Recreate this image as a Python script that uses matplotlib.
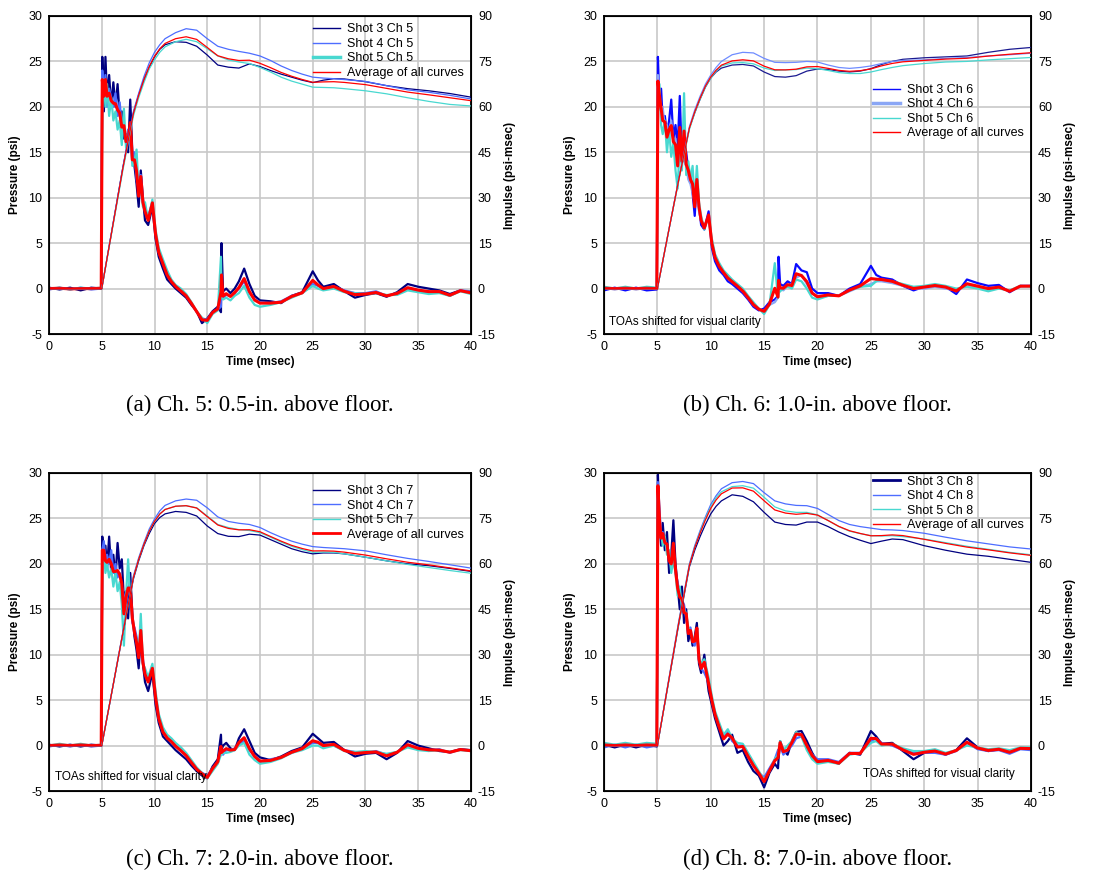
import numpy as np
import matplotlib.pyplot as plt
from matplotlib.lines import Line2D

plt.rcParams['font.family'] = ['Liberation Sans', 'DejaVu Sans']
plt.rcParams['axes.unicode_minus'] = False

# time base for the pressure traces (msec)
time_p = [0, 1, 2, 3, 4, 4.95, 5.05, 5.2, 5.35, 5.5, 5.7, 5.9, 6.1, 6.3, 6.5, 6.7,
          6.9, 7.1, 7.3, 7.5, 7.7, 7.9, 8.1, 8.3, 8.5, 8.7, 8.9, 9.1, 9.4, 9.8,
          10.1, 10.4, 10.8, 11.2, 11.6, 12.0, 12.5, 13.0, 13.5, 14.0, 14.5, 15.0,
          15.5, 16.0, 16.3, 16.35, 16.5, 16.8, 17.2, 17.6, 18.0, 18.5, 19.0, 19.5,
          20, 21, 22, 23, 24, 25, 25.5, 26, 27, 28, 29, 30, 31, 32, 33, 34, 35,
          36, 37, 38, 39, 40]
# time base for the impulse curves (msec)
time_i = [0, 5, 6, 7, 8, 8.5, 9, 9.5, 10, 10.5, 11, 12, 13, 14, 15, 16, 17, 18,
          19, 20, 21, 22, 23, 24, 25, 26, 27, 28, 30, 32, 34, 36, 38, 40]

# ---- Ch 5 ----
ch5_shot3_p = [0.1, -0.1, 0.1, -0.2, 0.1, 0.0, 25.5, 19.5, 25.5, 21.0, 23.5, 20.0, 22.7, 20.0,
               22.5, 19.0, 19.5, 16.5, 17.0, 15.0, 20.8, 15.0, 13.5, 11.5, 9.0, 13.0, 10.0,
               7.5, 7.0, 9.0, 5.5, 3.5, 2.2, 1.0, 0.5, 0.0, -0.5, -1.0, -1.8, -2.5, -3.8,
               -3.3, -2.5, -2.0, -2.6, 5.0, -0.3, 0.0, -0.5, 0.0, 0.8, 2.2, 0.5, -0.8,
               -1.3, -1.4, -1.6, -0.8, -0.4, 1.9, 0.9, 0.2, 0.5, -0.3, -1.0, -0.7, -0.5,
               -0.9, -0.4, 0.5, 0.2, 0.0, -0.2, -0.6, -0.2, -0.5]
ch5_shot4_p = [-0.1, 0.1, -0.1, 0.1, -0.1, 0.0, 24.0, 21.0, 23.5, 20.0, 22.0, 21.0, 20.0, 21.5,
               19.0, 20.5, 18.0, 17.5, 16.0, 17.5, 16.5, 14.0, 15.0, 12.0, 11.0, 12.5, 9.5,
               8.5, 8.0, 9.5, 6.0, 4.0, 2.8, 1.5, 0.8, 0.3, -0.3, -0.8, -1.6, -2.6, -3.3,
               -3.4, -2.6, -2.3, -2.0, 0.5, -1.0, -0.7, -0.8, -0.5, 0.0, 0.8, -0.5, -1.2,
               -1.5, -1.6, -1.4, -0.8, -0.5, 0.5, 0.3, 0.0, 0.2, -0.2, -0.5, -0.5, -0.3,
               -0.8, -0.5, 0.0, -0.3, -0.4, -0.3, -0.8, -0.2, -0.3]
ch5_shot5_p = [0.0, 0.1, -0.1, 0.1, 0.0, 0.1, 19.5, 23.0, 20.0, 22.5, 19.0, 21.0, 18.5, 19.5,
               17.5, 18.5, 15.8, 19.8, 15.5, 16.5, 17.5, 13.5, 14.0, 15.3, 10.5, 11.5, 9.0,
               9.5, 7.5, 9.8, 6.5, 4.5, 3.2, 2.0, 1.0, 0.4, 0.0, -0.6, -1.5, -2.5, -3.2,
               -3.8, -2.8, -2.4, 3.5, -1.0, -1.2, -1.0, -1.3, -0.8, -0.5, 0.3, -1.0, -1.8,
               -2.0, -1.8, -1.5, -1.0, -0.5, 0.3, 0.0, -0.2, 0.0, -0.4, -0.5, -0.6, -0.5,
               -0.7, -0.7, -0.2, -0.4, -0.6, -0.5, -0.8, -0.3, -0.6]
ch5_shot3_i = [0, 0, 20, 40, 58, 64, 69, 73, 76.5, 79, 80.5, 81.5, 81.3, 80.0, 77.1, 73.8,
               73.1, 72.8, 74.2, 73.3, 72.0, 70.8, 69.8, 68.8, 68.0, 68.8, 69.3, 69.2, 68.3,
               67.0, 66.0, 65.3, 64.4, 63.2]
ch5_shot4_i = [0, 0, 20, 40, 58.5, 64.5, 70, 74.5, 78, 80.5, 82.5, 84.5, 85.8, 85.3, 82.5,
               80.0, 79.0, 78.3, 77.7, 76.8, 75.3, 73.5, 72.0, 70.8, 69.8, 69.5, 69.3, 69.0,
               68.4, 67.0, 65.6, 64.8, 63.8, 62.6]
ch5_shot5_i = [0, 0, 19.5, 39, 57, 63, 68, 72.5, 75.5, 78, 79.8, 81.5, 82.3, 81.5, 79.2,
               76.8, 75.5, 74.8, 74.3, 73.0, 71.5, 69.8, 68.5, 67.5, 66.5, 66.4, 66.3, 66.0,
               65.3, 64.3, 63.0, 61.8, 60.8, 60.3]

# ---- Ch 6 ----
ch6_shot3_p = [-0.2, 0.1, -0.2, 0.1, -0.2, -0.1, 25.5, 20.0, 22.0, 18.5, 19.0, 17.0, 18.5, 20.8,
               16.5, 18.0, 15.5, 21.2, 14.0, 16.5, 15.0, 13.0, 12.5, 10.5, 8.0, 12.0, 9.0,
               7.0, 6.5, 8.5, 4.5, 3.0, 2.0, 1.5, 0.8, 0.5, 0.0, -0.5, -1.2, -2.0, -2.4,
               -2.2, -1.5, -1.2, -0.8, 3.5, 0.5, 0.3, 0.8, 0.5, 2.7, 2.0, 1.8, 0.0,
               -0.5, -0.5, -0.8, 0.0, 0.5, 2.5, 1.5, 1.2, 1.0, 0.3, -0.2, 0.2, 0.3,
               0.2, -0.6, 1.0, 0.6, 0.3, 0.4, -0.4, 0.3, 0.3]
ch6_shot4_p = [0.1, -0.1, 0.1, -0.1, 0.1, 0.0, 23.5, 21.0, 19.5, 20.0, 17.5, 18.0, 16.5, 18.5,
               16.0, 16.5, 14.0, 16.0, 15.0, 14.0, 13.5, 12.0, 11.5, 10.5, 9.5, 10.5, 8.5,
               7.5, 7.0, 7.8, 5.0, 3.5, 2.5, 1.8, 1.2, 0.8, 0.3, -0.3, -1.0, -1.8, -2.2,
               -2.5, -1.8, -1.5, -1.0, -0.3, 0.0, -0.2, 0.3, 0.5, 1.2, 1.5, 0.5, -0.5,
               -1.0, -0.8, -0.8, -0.3, 0.2, 0.5, 0.8, 0.8, 0.6, 0.3, 0.0, 0.0, 0.2,
               0.0, -0.2, 0.4, 0.2, 0.0, 0.1, -0.3, 0.2, 0.3]
ch6_shot5_p = [0.2, 0.0, 0.2, 0.0, 0.2, 0.1, 19.5, 22.5, 18.0, 17.0, 18.5, 15.0, 17.5, 14.5,
               16.0, 13.0, 11.0, 16.0, 13.0, 21.5, 12.5, 14.0, 12.0, 13.5, 9.5, 13.5, 9.5,
               8.0, 6.5, 8.0, 5.5, 3.8, 2.8, 2.0, 1.5, 1.0, 0.5, 0.0, -0.8, -1.5, -2.2,
               -2.8, -1.8, 2.8, -1.0, -0.5, -0.3, 0.0, 0.2, 0.0, 1.0, 0.8, 0.0, -1.0,
               -1.2, -0.8, -0.8, -0.2, 0.2, 0.3, 0.8, 1.0, 0.8, 0.5, 0.2, 0.3, 0.5,
               0.3, 0.0, 0.2, 0.0, -0.3, 0.0, -0.2, 0.3, 0.2]
ch6_shot3_i = [0, 0, 18, 36, 53, 58, 62.5, 66.5, 69.5, 71.5, 72.8, 73.8, 74.0, 73.5, 71.5,
               70.0, 69.8, 70.3, 71.8, 72.5, 72.3, 71.8, 71.5, 71.8, 72.6, 74.0, 75.0, 75.7,
               76.2, 76.5, 76.8, 78.0, 79.0, 79.6]
ch6_shot4_i = [0, 0, 18, 36, 53.5, 59, 63.5, 67.5, 70.5, 73, 75, 77.2, 78.0, 77.8, 76.0,
               74.7, 74.6, 74.7, 75.0, 74.8, 73.8, 73.0, 72.7, 73.0, 73.5, 74.3, 75.0, 75.3,
               75.5, 76.0, 76.3, 76.8, 77.2, 77.7]
ch6_shot5_i = [0, 0, 18, 35.5, 52.5, 58, 62.5, 66.5, 69.5, 71.8, 73.5, 74.5, 74.6, 74.2,
               72.8, 72.0, 72.2, 72.3, 72.8, 72.6, 72.0, 71.3, 71.0, 71.0, 71.5, 72.3, 73.0,
               73.6, 74.3, 74.8, 75.0, 75.5, 75.9, 76.3]

# ---- Ch 7 ----
ch7_shot3_p = [0.1, -0.1, 0.1, -0.1, 0.1, 0.0, 23.0, 20.5, 22.0, 19.5, 23.0, 19.0, 21.0, 18.5,
               22.3, 19.5, 20.5, 16.0, 17.0, 14.0, 19.0, 14.5, 12.0, 10.5, 8.5, 12.0, 9.0,
               7.0, 6.0, 8.0, 4.5, 2.5, 1.0, 0.5, 0.0, -0.5, -1.0, -1.5, -2.2, -2.8, -3.3,
               -3.6, -2.3, -1.5, 1.2, -0.5, 0.0, 0.3, -0.3, -0.5, 0.8, 1.8, 0.5, -0.8,
               -1.3, -1.6, -1.2, -0.6, -0.2, 1.3, 0.8, 0.3, 0.4, -0.5, -1.2, -0.9, -0.8,
               -1.5, -0.8, 0.5, 0.0, -0.3, -0.6, -0.7, -0.4, -0.5]
ch7_shot4_p = [-0.1, 0.1, -0.1, 0.1, -0.1, 0.0, 21.5, 22.5, 20.0, 21.0, 20.0, 21.5, 19.0, 20.0,
               18.5, 19.0, 17.5, 16.5, 15.5, 17.5, 17.0, 13.5, 13.0, 12.0, 10.5, 11.5, 9.5,
               8.0, 7.5, 8.5, 5.5, 3.0, 1.5, 0.8, 0.5, 0.0, -0.5, -1.0, -1.8, -2.6, -3.0,
               -3.3, -2.5, -1.8, -0.5, -0.8, -1.0, -0.5, -0.5, -0.3, 0.2, 0.5, -0.5, -1.2,
               -1.8, -1.5, -1.3, -0.8, -0.3, 0.3, 0.3, 0.0, 0.0, -0.5, -0.7, -0.8, -0.6,
               -1.0, -0.7, 0.0, -0.4, -0.5, -0.4, -0.8, -0.4, -0.6]
ch7_shot5_p = [0.0, 0.2, 0.0, 0.2, 0.0, 0.1, 20.0, 21.5, 19.0, 20.0, 18.5, 19.5, 17.5, 19.0,
               17.0, 18.0, 15.5, 11.0, 16.5, 20.5, 16.0, 14.0, 12.5, 11.5, 10.0, 14.5, 9.0,
               8.5, 7.5, 9.0, 6.0, 3.5, 2.0, 1.2, 0.8, 0.3, -0.2, -0.8, -1.6, -2.4, -3.0,
               -3.6, -2.8, -2.0, -1.0, -1.0, -0.8, -0.8, -0.7, -0.5, 0.0, 0.3, -1.0, -1.6,
               -2.0, -1.8, -1.4, -0.8, -0.5, 0.0, 0.0, -0.3, 0.0, -0.6, -0.7, -0.6, -0.7,
               -0.9, -0.7, -0.2, -0.5, -0.6, -0.5, -0.7, -0.5, -0.6]
ch7_shot3_i = [0, 0, 18.5, 37, 55, 61, 66, 70, 73.3, 75.3, 76.5, 77.3, 77.0, 75.8, 72.5,
               70.0, 69.1, 69.0, 69.8, 69.5, 68.0, 66.5, 65.0, 64.0, 63.3, 63.6, 63.6, 63.3,
               62.2, 61.0, 60.0, 59.4, 58.5, 57.5]
ch7_shot4_i = [0, 0, 18.5, 37.5, 56, 62, 67, 71.5, 74.8, 77.5, 79.3, 80.8, 81.4, 81.0, 78.5,
               75.5, 74.0, 73.4, 73.0, 72.0, 70.3, 68.8, 67.5, 66.5, 65.7, 65.4, 65.2, 65.0,
               64.3, 63.0, 61.8, 60.8, 59.7, 58.6]
ch7_shot5_i = [0, 0, 18.5, 37, 55.5, 61.5, 66.5, 70.8, 74.0, 76.5, 78.0, 79.0, 79.2, 78.5,
               75.8, 73.0, 72.0, 71.3, 71.0, 70.3, 68.8, 67.2, 65.8, 64.7, 63.8, 63.9, 63.8,
               63.3, 62.2, 61.0, 59.8, 58.8, 57.8, 56.9]

# ---- Ch 8 ----
ch8_shot3_p = [0.1, -0.2, 0.1, -0.2, 0.1, -0.1, 29.8, 24.5, 22.0, 24.5, 21.5, 23.5, 19.0, 21.0,
               24.8, 20.0, 17.5, 15.0, 17.5, 13.5, 15.0, 11.5, 12.5, 11.0, 12.0, 13.5, 9.0,
               8.0, 10.0, 6.0, 4.5, 3.0, 1.5, 0.0, 0.5, 1.2, -0.8, -0.5, -1.8, -2.8, -3.3,
               -4.6, -3.0, -2.0, -2.5, -1.5, 0.5, -0.5, -1.0, 0.5, 1.5, 1.6, 0.5, -0.8,
               -1.8, -1.6, -2.0, -0.8, -1.0, 1.6, 1.0, 0.2, 0.3, -0.6, -1.5, -0.8, -0.6,
               -1.0, -0.5, 0.8, -0.2, -0.6, -0.4, -0.8, -0.3, -0.3]
ch8_shot4_p = [-0.2, 0.1, -0.2, 0.1, -0.2, 0.0, 29.0, 26.0, 23.0, 23.5, 22.5, 22.0, 20.5, 20.0,
               21.5, 19.0, 18.0, 16.5, 16.0, 15.5, 14.0, 12.5, 13.0, 11.5, 11.0, 12.5, 9.5,
               8.5, 8.0, 7.0, 5.0, 3.5, 2.0, 1.0, 1.5, 0.5, 0.0, 0.0, -1.0, -2.0, -3.0,
               -3.5, -2.5, -1.5, -0.5, -0.5, 0.0, -1.0, -0.5, 0.0, 0.8, 1.0, 0.0, -1.0,
               -1.5, -1.5, -1.8, -0.8, -0.8, 0.5, 0.8, 0.3, 0.0, -0.5, -0.8, -0.8, -0.8,
               -1.0, -0.6, 0.3, -0.4, -0.6, -0.5, -0.9, -0.4, -0.5]
ch8_shot5_p = [0.3, 0.1, 0.3, 0.1, 0.3, 0.2, 27.0, 24.0, 23.5, 22.0, 23.0, 21.0, 21.5, 19.0,
               20.5, 19.0, 16.5, 17.5, 15.0, 15.0, 14.5, 13.0, 12.5, 11.8, 11.5, 12.8, 10.0,
               9.0, 9.5, 7.5, 5.5, 3.8, 2.5, 1.2, 1.8, 0.8, 0.3, 0.2, -0.8, -1.8, -2.8,
               -3.8, -2.8, -1.5, -1.0, -0.8, 0.5, -0.5, 0.0, 0.5, 1.5, 1.0, -0.5, -1.5,
               -2.0, -1.8, -2.0, -1.0, -0.8, 0.3, 0.5, 0.0, 0.2, -0.3, -0.6, -0.6, -0.4,
               -0.8, -0.5, 0.0, -0.2, -0.4, -0.3, -0.5, -0.2, -0.2]
ch8_shot3_i = [0, 0, 20, 40, 59, 64.5, 69, 73, 76.5, 79, 80.8, 82.8, 82.3, 80.5, 77.0,
               73.8, 73.0, 72.8, 73.8, 73.8, 72.3, 70.5, 69.0, 67.8, 66.7, 67.5, 68.2, 68.0,
               66.0, 64.5, 63.2, 62.5, 61.5, 60.5]
ch8_shot4_i = [0, 0, 20.5, 41, 60, 66, 71, 75.5, 79.6, 82.5, 84.8, 86.8, 87.2, 86.5, 83.5,
               80.8, 79.8, 79.3, 79.2, 78.3, 76.3, 74.3, 73.0, 72.3, 71.8, 71.3, 71.2, 71.0,
               70.1, 68.8, 67.6, 66.6, 65.6, 64.9]
ch8_shot5_i = [0, 0, 20, 40.5, 59.5, 65.5, 70.5, 75, 78.8, 81.8, 83.8, 85.5, 85.8, 85.0,
               82.0, 78.8, 77.5, 77.0, 77.0, 76.2, 74.3, 72.3, 70.8, 70.0, 69.3, 69.2, 69.3,
               69.0, 68.2, 67.0, 65.8, 64.8, 63.8, 63.0]

captions = ["(a) Ch. 5: 0.5-in. above floor.", "(b) Ch. 6: 1.0-in. above floor.",
            "(c) Ch. 7: 2.0-in. above floor.", "(d) Ch. 8: 7.0-in. above floor."]
note = "TOAs shifted for visual clarity"

fig = plt.figure(figsize=(10.94, 8.73), dpi=100)


def panel(rect, ch, press, imp, cols, imp_cols, hand_lw, leg_anchor, note_pos, caption, cap_y):
    ax = fig.add_axes(rect)
    for p, c in zip(press, cols):
        ax.plot(time_p, p, color=c, lw=1.6)
    ax.plot(time_p, np.mean(press, axis=0), color='red', lw=2.2)
    ax.set_xlim(0, 40)
    ax.set_ylim(-5, 30)
    ax.set_xticks(range(0, 41, 5))
    ax.set_yticks(range(-5, 31, 5))
    ax.grid(True, color='#c8c8c8', lw=1.2)
    ax.set_axisbelow(True)
    ax.tick_params(length=0, labelsize=9, pad=5)
    ax.set_xlabel('Time (msec)', fontsize=8.5, fontweight='bold', labelpad=2)
    ax.set_ylabel('Pressure (psi)', fontsize=8.5, fontweight='bold', labelpad=5)
    for s in ax.spines.values():
        s.set_linewidth(1.3)

    ax2 = ax.twinx()
    for i, c in zip(imp, imp_cols):
        ax2.plot(time_i, i, color=c, lw=0.9)
    ax2.plot(time_i, np.mean(imp, axis=0), color='red', lw=0.9)
    ax2.set_ylim(-15, 90)
    ax2.set_yticks(range(-15, 91, 15))
    ax2.tick_params(length=0, labelsize=9, pad=5)
    ax2.set_ylabel('Impulse (psi-msec)', fontsize=8.5, fontweight='bold', labelpad=6)

    labels = ['Shot 3 Ch %d' % ch, 'Shot 4 Ch %d' % ch, 'Shot 5 Ch %d' % ch, 'Average of all curves']
    handles = [Line2D([], [], color=c, lw=w) for c, w in zip(cols + ['red'], hand_lw)]
    ax2.legend(handles, labels, loc='upper right', bbox_to_anchor=leg_anchor, frameon=False,
               fontsize=9, handlelength=2.2, handletextpad=0.5, labelspacing=0.2,
               borderaxespad=0.2)
    if note_pos is not None:
        ax2.text(note_pos[0], note_pos[1], note, transform=ax2.transAxes, fontsize=8.5,
                 va='center', ha='left')
    fig.text(rect[0] + rect[2] / 2, cap_y, caption, ha='center', va='center',
             fontsize=16.5, family='Liberation Serif')


w_l, w_r, h = 0.3857, 0.3903, 0.3643
panel([0.0448, 0.6174, w_l, h], 5, [ch5_shot3_p, ch5_shot4_p, ch5_shot5_p],
      [ch5_shot3_i, ch5_shot4_i, ch5_shot5_i],
      ['#000080', '#4d6dff', '#48d8d0'], ['#000080', '#4d6dff', '#48d8d0'],
      [1, 1, 2.5, 1], (1.0, 1.0), None, captions[0], 0.536)
panel([0.5521, 0.6174, w_r, h], 6, [ch6_shot3_p, ch6_shot4_p, ch6_shot5_p],
      [ch6_shot3_i, ch6_shot4_i, ch6_shot5_i],
      ['#0a0aff', '#8aa6f5', '#48d8d0'], ['#1a1a90', '#6f8cff', '#48d8d0'],
      [1, 2.5, 1, 1], (1.0, 0.81), (0.012, 0.038), captions[1], 0.536)
panel([0.0448, 0.0939, w_l, h], 7, [ch7_shot3_p, ch7_shot4_p, ch7_shot5_p],
      [ch7_shot3_i, ch7_shot4_i, ch7_shot5_i],
      ['#000080', '#4d6dff', '#48d8d0'], ['#000080', '#4d6dff', '#48d8d0'],
      [1, 1, 1, 2], (1.0, 0.985), (0.014, 0.044), captions[2], 0.015)
panel([0.5521, 0.0939, w_r, h], 8, [ch8_shot3_p, ch8_shot4_p, ch8_shot5_p],
      [ch8_shot3_i, ch8_shot4_i, ch8_shot5_i],
      ['#000080', '#4d6dff', '#48d8d0'], ['#000080', '#4d6dff', '#48d8d0'],
      [2, 1, 1, 1], (1.0, 1.015), (0.607, 0.053), captions[3], 0.015)

fig.savefig('out.png', dpi=100)
